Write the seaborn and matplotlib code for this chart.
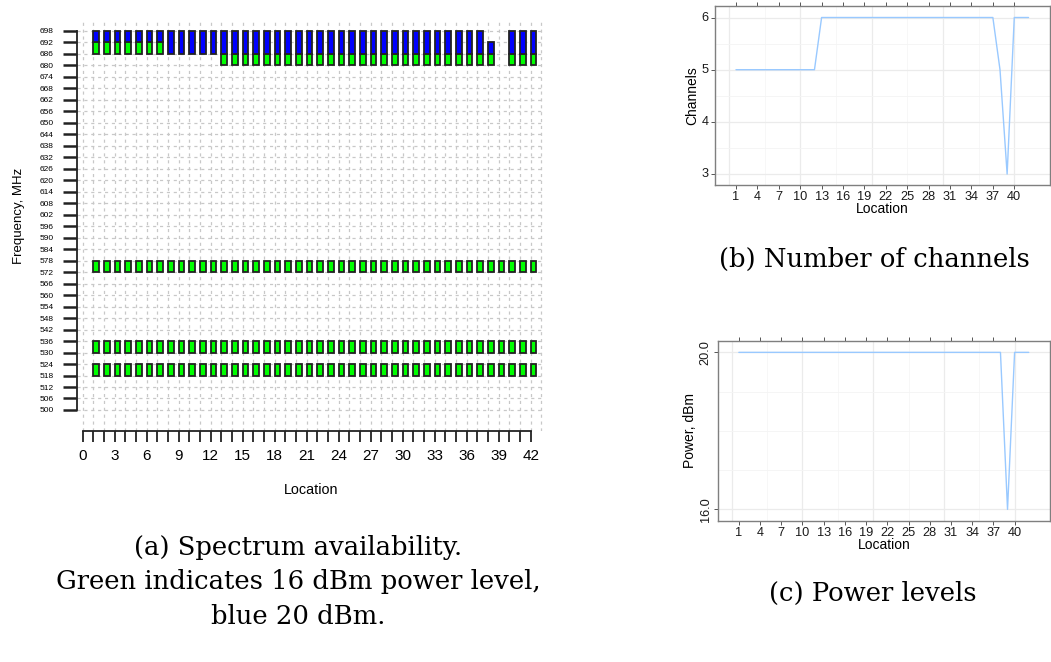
import seaborn as sb
import matplotlib
matplotlib.use("Agg")
import matplotlib.pyplot as plt
import pandas

SANS = ["Liberation Sans", "DejaVu Sans"]
SERIF = ["DejaVu Serif"]
LINE_COLOR = "#99C9FF"
GREEN = "#00FF00"
BLUE = "#0000FF"
CAPTION_SIZE = 18.6

# --- data -------------------------------------------------------------
locations = list(range(1, 43))

# lower edge of each 6 MHz channel that is ever available
channel_low = [518, 530, 572, 680, 686, 692]
channel_width = 6

# availability per location (index 0 = location 1): G = 16 dBm, B = 20 dBm, . = none
availability = {
    518: "G" * 42,
    530: "G" * 42,
    572: "G" * 42,
    680: "." * 12 + "G" * 26 + "." + "G" * 3,
    686: "G" * 7 + "B" * 31 + "." + "B" * 3,
    692: "B" * 37 + ".." + "B" * 3,
}

num_channels = [5] * 12 + [6] * 25 + [5, 3] + [6] * 3
power_dbm = [20] * 38 + [16] + [20] * 3

freq_ticks = list(range(500, 699, 6))
loc_ticks_bc = list(range(1, 42, 3))

sb.set_style("white")
plt.rcParams["font.family"] = SANS
plt.rcParams["text.color"] = "black"
plt.rcParams["axes.labelcolor"] = "black"
plt.rcParams["xtick.color"] = "black"
plt.rcParams["ytick.color"] = "black"

fig = plt.figure(figsize=(10.51, 6.62), dpi=100)

# --- (a) spectrum availability ---------------------------------------
ax = fig.add_axes([0.0733, 0.3489, 0.4453, 0.6179])
for i, loc in enumerate(locations):
    # merge consecutive channels with the same power into one block
    blocks = []
    for low in channel_low:
        code = availability[low][i]
        if code == ".":
            continue
        if blocks and blocks[-1][2] == code and blocks[-1][1] == low:
            blocks[-1][1] = low + channel_width
        else:
            blocks.append([low, low + channel_width, code])
    for low, high, code in blocks:
        ax.bar(loc, high - low, bottom=low, width=0.52, align="edge",
               color=GREEN if code == "G" else BLUE,
               edgecolor="#222222", linewidth=1.3, zorder=3)

for f in freq_ticks:
    ax.axhline(f, color="#C8C8C8", linestyle=(0, (2.5, 3)), linewidth=0.9, zorder=1)
for x in range(0, 44):
    ax.axvline(x, color="#C8C8C8", linestyle=(0, (2.5, 3)), linewidth=0.9, zorder=1)

ax.set_xlim(-0.53, 43.34)
ax.set_ylim(489.0, 702.7)
for s in ["top", "right"]:
    ax.spines[s].set_visible(False)
ax.spines["left"].set_bounds(500, 698)
ax.spines["bottom"].set_bounds(0, 42)
for s in ["left", "bottom"]:
    ax.spines[s].set_linewidth(1.3)
    ax.spines[s].set_color("#222222")
ax.set_yticks(freq_ticks)
ax.set_yticklabels([str(f) for f in freq_ticks], fontsize=6)
ax.set_xticks(range(0, 43))
ax.set_xticklabels([str(x) if x % 3 == 0 else "" for x in range(0, 43)], fontsize=11)
ax.tick_params(axis="y", length=10, width=1.8, color="#222222", pad=7, left=True)
ax.tick_params(axis="x", length=8, width=1.3, color="#222222", pad=5, bottom=True)
ax.set_ylabel("Frequency, MHz", fontsize=9.5)
ax.set_xlabel("Location", fontsize=10.4, labelpad=14)
ax.yaxis.set_label_coords(-0.112, 0.527)

cx = 298 / 1051
fig.text(cx, 1 - 548 / 662, "(a) Spectrum availability.", family=SERIF,
         fontsize=CAPTION_SIZE, ha="center", va="center")
fig.text(cx, 1 - 582 / 662, "Green indicates 16 dBm power level,", family=SERIF,
         fontsize=CAPTION_SIZE, ha="center", va="center")
fig.text(cx, 1 - 616 / 662, "blue 20 dBm.", family=SERIF,
         fontsize=CAPTION_SIZE, ha="center", va="center")


# --- (b) and (c) line panels ------------------------------------------
def line_panel(rect, values, ylabel, ylim, yticks, yminor, ytick_labels, rotate):
    axp = fig.add_axes(rect)
    df = pandas.DataFrame({"Location": locations, "value": values})
    for g in [0, 10, 20, 30, 40]:
        axp.axvline(g, color="#EBEBEB", linewidth=0.9, zorder=0)
    for g in [5, 15, 25, 35, 45]:
        axp.axvline(g, color="#F4F4F4", linewidth=0.5, zorder=0)
    for g in yticks:
        axp.axhline(g, color="#EBEBEB", linewidth=0.9, zorder=0)
    for g in yminor:
        axp.axhline(g, color="#F4F4F4", linewidth=0.6, zorder=0)
    sb.lineplot(df, x="Location", y="value", ax=axp, color=LINE_COLOR,
                linewidth=1.0, zorder=2)
    axp.set_xlim(-1.94, 45.0)
    axp.set_ylim(*ylim)
    axp.set_xticks(loc_ticks_bc)
    axp.set_xticklabels([str(t) for t in loc_ticks_bc], fontsize=9.2)
    axp.set_yticks(yticks)
    axp.set_yticklabels(ytick_labels, fontsize=9.2, rotation=90 if rotate else 0,
                        va="center")
    axp.tick_params(axis="both", which="both", length=3, width=0.7, color="#555555",
                    labelcolor="#1A1A1A", pad=1.5, direction="out", top=True,
                    right=True, bottom=True, left=True, labeltop=False,
                    labelright=False)
    for s in axp.spines.values():
        s.set_visible(True)
        s.set_color("#7F7F7F")
        s.set_linewidth(1.0)
    axp.set_xlabel("Location", fontsize=10, labelpad=-1)
    axp.set_ylabel(ylabel, fontsize=10, labelpad=2)
    return axp


line_panel([0.6803, 0.7205, 0.3187, 0.2704], num_channels, "Channels",
           (2.79, 6.22), [3, 4, 5, 6], [3.5, 4.5, 5.5],
           ["3", "4", "5", "6"], False)
fig.text(874 / 1051, 1 - 259 / 662, "(b) Number of channels", family=SERIF,
         fontsize=CAPTION_SIZE, ha="center", va="center")

line_panel([0.6832, 0.2134, 0.3158, 0.2715], power_dbm, "Power, dBm",
           (15.71, 20.29), [16, 20], [17, 18, 19],
           ["16.0", "20.0"], True)
fig.text(873 / 1051, 1 - 593 / 662, "(c) Power levels", family=SERIF,
         fontsize=CAPTION_SIZE, ha="center", va="center")

plt.savefig("out.png", dpi=100)
